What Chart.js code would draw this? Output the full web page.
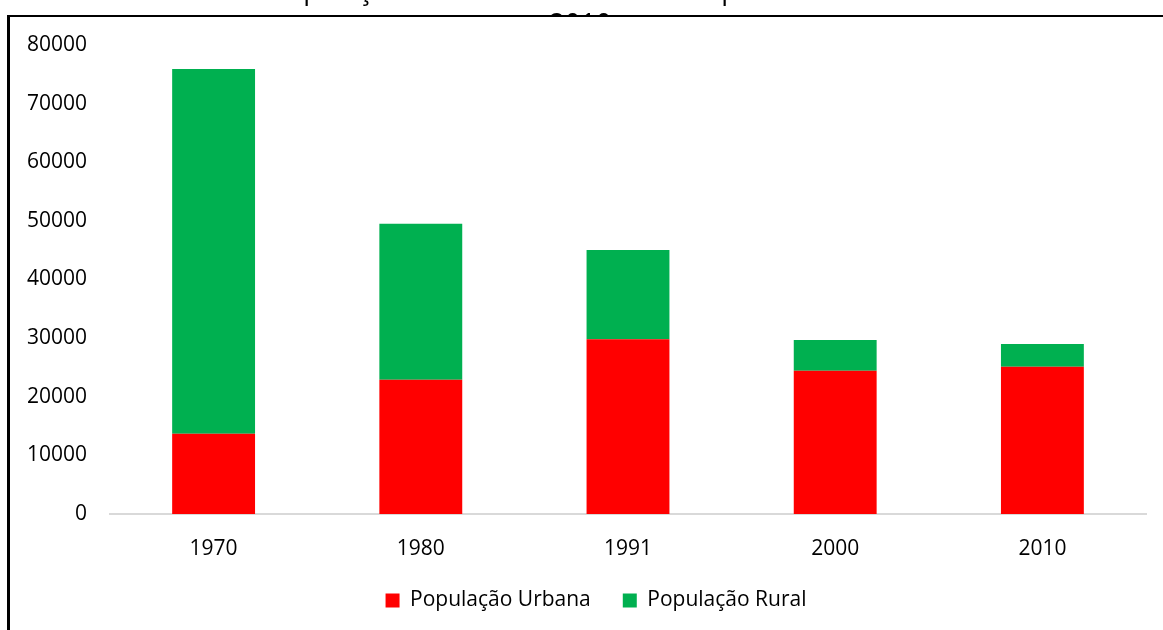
<!DOCTYPE html>
<html>
<head>
<meta charset="utf-8">
<script src="https://cdn.jsdelivr.net/npm/chart.js@4.4.1/dist/chart.umd.min.js"></script>
<style>
  html, body { margin: 0; padding: 0; background: #fff; }
  #wrap { position: relative; width: 1163px; height: 630px; overflow: hidden; }
  #chart { position: absolute; left: 0; top: 0; }
  #titleClip { position: absolute; left: 0; top: 0; width: 1163px; height: 15px; overflow: hidden; }
  #title {
    position: absolute; left: 0; top: -28.5px; width: 1163px; text-align: center;
    font-family: "Open Sans", sans-serif; font-size: 27px; line-height: 34px; color: #000;
    padding-right: 2px; box-sizing: border-box;
  }
  #frame {
    position: absolute; left: 7px; top: 15px; width: 1170px; height: 640px;
    border-top: 2px solid #000; border-left: 3px solid #000; pointer-events: none;
  }
</style>
</head>
<body>
<div id="wrap">
  <canvas id="chart" width="1163" height="630"></canvas>
  <div id="titleClip"><div id="title">População urbana e rural do município de 1970 a<br>2010</div></div>
  <div id="frame"></div>
</div>
<script>
const years = ["1970", "1980", "1991", "2000", "2010"];
const urbana = [13700, 22900, 29800, 24450, 25100];
const rural = [62200, 26600, 15250, 5250, 3900];
const yTicks = [0, 10000, 20000, 30000, 40000, 50000, 60000, 70000, 80000];

Chart.defaults.font.family = "'Open Sans', sans-serif";
Chart.defaults.font.size = 21;
Chart.defaults.color = "#000";

// legend sits a bit right of the plot centre in the original
const legendShift = {
  id: 'legendShift',
  afterLayout(chart) {
    const lg = chart.legend;
    const d = (1192 - (lg.left + lg.right)) / 2;
    lg.left += d;
    lg.right += d;
  }
};

const chart = new Chart(document.getElementById("chart"), {
  type: 'bar',
  data: {
    labels: years,
    datasets: [
      {
        label: "População Urbana",
        data: urbana,
        backgroundColor: "#FF0000"
      },
      {
        label: "População Rural",
        data: rural,
        backgroundColor: "#00B050"
      }
    ]
  },
  options: {
    responsive: false,
    animation: false,
    layout: { padding: { left: 26, right: 17, top: 45, bottom: 9 } },
    datasets: { bar: { categoryPercentage: 1, barPercentage: 0.4 } },
    plugins: {
      title: { display: false },
      tooltip: { enabled: false },
      legend: {
        position: 'bottom',
        labels: { boxWidth: 14, boxHeight: 14, padding: 32 }
      }
    },
    scales: {
      x: {
        stacked: true,
        grid: { display: false, drawTicks: false },
        border: { display: true, color: "#d9d9d9", width: 2 },
        ticks: { padding: 22 },
        afterFit: (s) => { s.height = 44; }
      },
      y: {
        stacked: true,
        min: 0,
        max: 80000,
        grid: { display: false, drawTicks: false },
        border: { display: false },
        afterBuildTicks: (s) => { s.ticks = yTicks.map(v => ({ value: v })); },
        ticks: { padding: 23, callback: (v) => String(v) },
        afterFit: (s) => { s.width = 84; }
      }
    }
  },
  plugins: [legendShift]
});
</script>
</body>
</html>
